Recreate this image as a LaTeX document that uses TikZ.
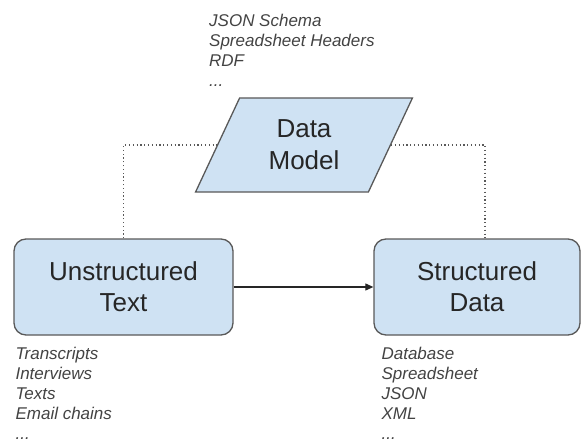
\documentclass[tikz,border=0pt]{standalone}
\usepackage{fontspec}
\setmainfont{Liberation Sans}
\usetikzlibrary{arrows.meta,positioning,shapes.geometric}

\definecolor{boxfill}{HTML}{CFE2F3}
\definecolor{boxline}{HTML}{595959}
\definecolor{notegray}{HTML}{434343}

\begin{document}
\begin{tikzpicture}[x=1pt,y=-1pt,
  stage/.style={draw=boxline,line width=1.3pt,fill=boxfill,rounded corners=12pt,
    minimum width=219pt,minimum height=96pt,align=center,text=black!85,
    font=\fontsize{26}{31}\selectfont},
  model/.style={trapezium,trapezium left angle=65,trapezium right angle=115,
    trapezium stretches=true,draw=boxline,line width=1.3pt,fill=boxfill,
    minimum width=217pt,minimum height=94pt,align=center,text=black!85,
    font=\fontsize{26}{32}\selectfont},
  notes/.style={inner sep=0pt,align=left,text=notegray,
    font=\fontsize{17}{20}\selectfont\itshape}]
\useasboundingbox (0,0) rectangle (582,444);

% the three stages
\node[model] (dm) at (304,145) {Data\\Model};
\node[stage] (ut) at (123.5,287) {Unstructured\\Text};
\node[stage,minimum width=206pt] (sd) at (477,287) {Structured\\Data};

% examples next to each stage
\node[notes,anchor=north west] (dmnotes) at (209,14) {JSON Schema\\Spreadsheet Headers\\RDF\\...};
\node[notes,below right=11pt and 2pt of ut.south west] (utnotes) {Transcripts\\Interviews\\Texts\\Email chains\\...};
\node[notes,below right=11pt and 8pt of sd.south west] (sdnotes) {Database\\Spreadsheet\\JSON\\XML\\...};

% connectors
\draw[-{Triangle[length=8pt,width=7pt]},line width=1.1pt,black!85] (ut) -- (sd);
\draw[boxline,line width=1.2pt,dash pattern=on 1.2pt off 2.6pt] (ut.north) |- (dm.left side);
\draw[boxline,line width=1.2pt,dash pattern=on 1.2pt off 2.6pt] (dm.right side) -| ([xshift=8pt]sd.north);
\end{tikzpicture}
\end{document}
